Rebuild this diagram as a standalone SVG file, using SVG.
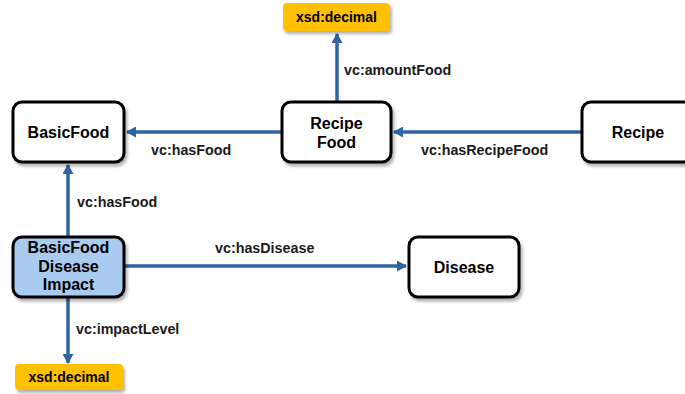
<svg xmlns="http://www.w3.org/2000/svg" width="685" height="394" viewBox="0 0 685 394">
<style>
.node{fill:#ffffff;stroke:#000000;stroke-width:3}
.blue{fill:#a9cbef;stroke:#000000;stroke-width:3}
.lit{fill:#ffc000;stroke:none}
.nt{font-family:"Liberation Sans",Arial,sans-serif;font-weight:bold;font-size:16px;fill:#000;text-anchor:middle}
.lt{font-family:"Liberation Sans",Arial,sans-serif;font-weight:bold;font-size:14.3px;fill:#1a1a1a}
.st{font-family:"Liberation Sans",Arial,sans-serif;font-weight:bold;font-size:14px;fill:#000;text-anchor:middle}
.edge{stroke:#2e64a3;stroke-width:3.5;fill:none;marker-end:url(#arr)}
</style>
<defs>
<marker id="arr" markerWidth="11" markerHeight="11" refX="9" refY="5.5" orient="auto" markerUnits="userSpaceOnUse">
<path d="M0,0 L10,5.5 L0,11 Z" fill="#2e64a3"/>
</marker>
<filter id="sh" x="-10%" y="-10%" width="130%" height="140%">
<feDropShadow dx="2" dy="3" stdDeviation="1.5" flood-color="#000" flood-opacity="0.3"/>
</filter>
</defs>
<g id="connectors">
<line class="edge" x1="337" y1="102" x2="337" y2="34"/>
<line class="edge" x1="282" y1="132" x2="127" y2="132"/>
<line class="edge" x1="582" y1="132" x2="394" y2="132"/>
<line class="edge" x1="68" y1="237" x2="68" y2="165"/>
<line class="edge" x1="124" y1="266" x2="406" y2="266"/>
<line class="edge" x1="68" y1="297" x2="68" y2="363"/>
<text class="lt" x="344" y="75">vc:amountFood</text>
<text class="lt" x="151" y="155">vc:hasFood</text>
<text class="lt" x="421" y="155">vc:hasRecipeFood</text>
<text class="lt" x="77" y="207">vc:hasFood</text>
<text class="lt" x="215" y="253">vc:hasDisease</text>
<text class="lt" x="76" y="334">vc:impactLevel</text>
</g>
<g id="BasicFood">
<rect class="node" x="13" y="102" width="111" height="60" rx="9" filter="url(#sh)"/>
<text class="nt" x="68.5" y="138">BasicFood</text>
</g>
<g id="RecipeFood">
<rect class="node" x="282" y="102" width="109" height="60" rx="9" filter="url(#sh)"/>
<text class="nt" x="336.5" y="129">Recipe</text>
<text class="nt" x="336.5" y="148">Food</text>
</g>
<g id="Recipe">
<rect class="node" x="582" y="102" width="111" height="60" rx="9" filter="url(#sh)"/>
<text class="nt" x="638" y="138">Recipe</text>
</g>
<g id="BasicFoodDiseaseImpact">
<rect class="blue" x="13" y="237" width="111" height="60" rx="9" filter="url(#sh)"/>
<text class="nt" x="68.5" y="253">BasicFood</text>
<text class="nt" x="68.5" y="272">Disease</text>
<text class="nt" x="68.5" y="290">Impact</text>
</g>
<g id="Disease">
<rect class="node" x="409" y="237" width="110" height="60" rx="9" filter="url(#sh)"/>
<text class="nt" x="464" y="273">Disease</text>
</g>
<g id="xsdDecimalTop">
<rect class="lit" x="283" y="3" width="107" height="28" rx="4" filter="url(#sh)"/>
<text class="st" x="336.5" y="22">xsd:decimal</text>
</g>
<g id="xsdDecimalBottom">
<rect class="lit" x="15" y="364" width="108" height="26" rx="4" filter="url(#sh)"/>
<text class="st" x="69" y="382">xsd:decimal</text>
</g>
</svg>
